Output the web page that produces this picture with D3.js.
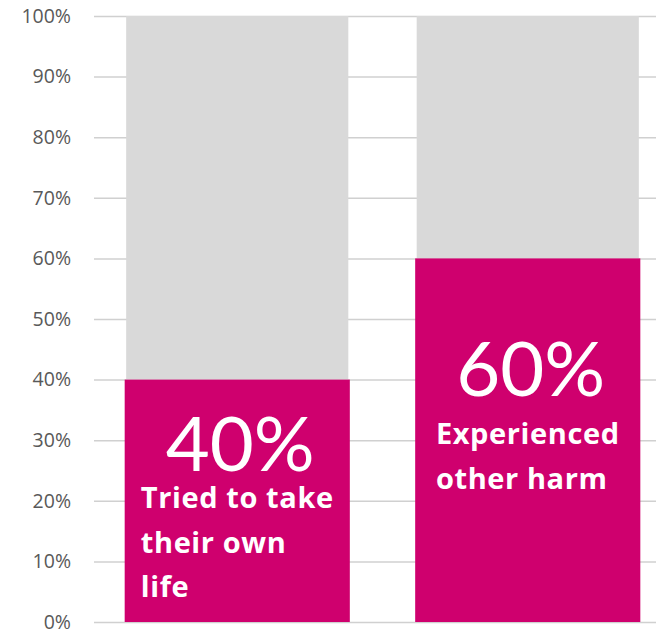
<!DOCTYPE html>
<html>
<head>
<meta charset="utf-8">
<script src="https://cdn.jsdelivr.net/npm/d3@7"></script>
<style>
  body { margin: 0; background: #fff; }
  svg { display: block; }
</style>
</head>
<body>
<div id="chart"></div>
<script>
// data
const categories = ["Tried to take their own life", "Experienced other harm"];
const values = [0.40, 0.60];
const labelLines = [["Tried to take", "their own", "life"], ["Experienced", "other harm"]];
const tickValues = [0, 0.1, 0.2, 0.3, 0.4, 0.5, 0.6, 0.7, 0.8, 0.9, 1.0];

// label text box placement (baseline of the percentage, then of the first caption line)
const labelPos = [{ pct: 471, line: 508 }, { pct: 396, line: 444 }];

const width = 656, height = 631;
const magenta = "#CF006E", grey = "#D9D9D9";

const svg = d3.select("#chart").append("svg")
  .attr("width", width)
  .attr("height", height);

const y = d3.scaleLinear().domain([0, 1]).range([622, 16]);
const x = d3.scaleBand().domain(categories)
  .range([92, 673])
  .paddingInner(0.225)
  .paddingOuter(0.1125);

// gridlines + tick labels
const yAxis = d3.axisLeft(y)
  .tickValues(tickValues)
  .tickFormat(d3.format(".0%"))
  .tickSize(-(width - 94))
  .tickPadding(23);

const ax = svg.append("g")
  .attr("transform", "translate(94,0)")
  .call(yAxis);
ax.select(".domain").remove();
ax.selectAll(".tick line").attr("stroke", "#D0D0D0").attr("stroke-width", 1.5);
ax.selectAll(".tick text")
  .attr("fill", "#595959")
  .attr("font-family", "'Open Sans', sans-serif")
  .attr("font-size", "19.5px");

// grey remainder
svg.selectAll(".rest")
  .data(categories)
  .enter().append("rect")
  .attr("class", "rest")
  .attr("x", d => x(d) + 1.5)
  .attr("width", x.bandwidth() - 3)
  .attr("y", y(1))
  .attr("height", (d, i) => y(values[i]) - y(1))
  .attr("fill", grey);

// magenta value
svg.selectAll(".val")
  .data(categories)
  .enter().append("rect")
  .attr("class", "val")
  .attr("x", d => x(d))
  .attr("width", x.bandwidth())
  .attr("y", (d, i) => y(values[i]))
  .attr("height", (d, i) => y(0) - y(values[i]))
  .attr("fill", magenta);

// labels
categories.forEach((c, i) => {
  const cx = x(c) + x.bandwidth() / 2;

  svg.append("text")
    .attr("x", cx + 3)
    .attr("y", labelPos[i].pct)
    .attr("text-anchor", "middle")
    .attr("fill", "#fff")
    .attr("font-family", "Lato, 'Open Sans', sans-serif")
    .attr("font-weight", 400)
    .attr("font-size", "76px")
    .text(d3.format(".0%")(values[i]));

  const g = svg.append("g");
  const lines = g.selectAll("text")
    .data(labelLines[i])
    .enter().append("text")
    .attr("y", (d, j) => labelPos[i].line + j * 44.5)
    .attr("fill", "#fff")
    .attr("font-family", "'Open Sans', sans-serif")
    .attr("font-weight", 700)
    .attr("font-size", "29px")
    .attr("letter-spacing", "0.6px")
    .text(d => d);

  let maxW = 0;
  lines.each(function() { maxW = Math.max(maxW, this.getComputedTextLength()); });
  lines.attr("x", cx - maxW / 2);
});
</script>
</body>
</html>
